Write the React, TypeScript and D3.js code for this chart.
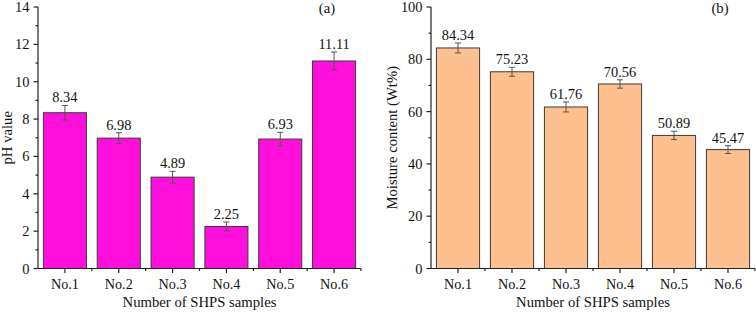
import React from "react";
import * as d3 from "d3";

const categories = ["No.1", "No.2", "No.3", "No.4", "No.5", "No.6"];
const phValues = [8.34, 6.98, 4.89, 2.25, 6.93, 11.11];
const phErrors = [0.39, 0.29, 0.31, 0.24, 0.36, 0.48];
const moistureValues = [84.34, 75.23, 61.76, 70.56, 50.89, 45.47];
const moistureErrors = [1.9, 1.7, 1.9, 1.6, 1.6, 1.5];
const phTicks = [0, 2, 4, 6, 8, 10, 12, 14];
const moistureTicks = [0, 20, 40, 60, 80, 100];

const FONT = "Liberation Serif, Times New Roman, serif";

type PanelProps = {
  x0: number;
  x1: number;
  yBottom: number;
  yTop: number;
  values: number[];
  errors: number[];
  yMax: number;
  ticks: number[];
  minorStep: number;
  fill: string;
  yTitle: string;
  yTitleX: number;
  tag: string;
  tagX: number;
};

function Panel(p: PanelProps) {
  const x = d3
    .scaleBand<string>()
    .domain(categories)
    .range([p.x0, p.x1])
    .paddingInner(0.2)
    .paddingOuter(0.1);
  const y = d3.scaleLinear().domain([0, p.yMax]).range([p.yBottom, p.yTop]);
  const step = x.step();
  const minorY = d3.range(p.minorStep, p.yMax, p.minorStep * 2);
  const boundaries = d3.range(1, categories.length + 1).map((i) => p.x0 + i * step);
  const axisColor = "#222";
  return (
    <g>
      {categories.map((c, i) => {
        const bx = x(c)!;
        const cx = bx + x.bandwidth() / 2;
        const v = p.values[i];
        const e = p.errors[i];
        return (
          <g key={c}>
            <rect
              x={bx}
              y={y(v)}
              width={x.bandwidth()}
              height={y(0) - y(v)}
              fill={p.fill}
              stroke="#3a3a3a"
              strokeWidth={1}
            />
            <line x1={cx} x2={cx} y1={y(v + e)} y2={y(v - e)} stroke="#555" strokeWidth={1} />
            <line x1={cx - 3} x2={cx + 3} y1={y(v + e)} y2={y(v + e)} stroke="#555" strokeWidth={1} />
            <line x1={cx - 3} x2={cx + 3} y1={y(v - e)} y2={y(v - e)} stroke="#555" strokeWidth={1} />
            <text
              x={cx}
              y={y(v + e) - 3}
              textAnchor="middle"
              fontFamily={FONT}
              fontSize={14.4}
              fill="#111"
            >
              {v.toFixed(2)}
            </text>
          </g>
        );
      })}
      <line x1={p.x0} x2={p.x0} y1={p.yBottom + 0.5} y2={p.yTop} stroke={axisColor} strokeWidth={1.2} />
      <line x1={p.x0} x2={p.x1} y1={p.yBottom} y2={p.yBottom} stroke={axisColor} strokeWidth={1.2} />
      {p.ticks.map((t) => (
        <g key={"yt" + t}>
          <line x1={p.x0 - 4.5} x2={p.x0} y1={y(t)} y2={y(t)} stroke={axisColor} strokeWidth={1.2} />
          <text
            x={p.x0 - 8.5}
            y={y(t)}
            dy="0.35em"
            textAnchor="end"
            fontFamily={FONT}
            fontSize={14.4}
            fill="#111"
          >
            {t}
          </text>
        </g>
      ))}
      {minorY.map((t) => (
        <line key={"ym" + t} x1={p.x0 - 2.5} x2={p.x0} y1={y(t)} y2={y(t)} stroke={axisColor} strokeWidth={1.2} />
      ))}
      {categories.map((c) => {
        const cx = x(c)! + x.bandwidth() / 2;
        return (
          <g key={"xt" + c}>
            <line x1={cx} x2={cx} y1={p.yBottom} y2={p.yBottom + 4.5} stroke={axisColor} strokeWidth={1.2} />
            <text
              x={cx}
              y={288.5}
              textAnchor="middle"
              fontFamily={FONT}
              fontSize={14.2}
              fill="#111"
            >
              {c}
            </text>
          </g>
        );
      })}
      {boundaries.map((b, i) => (
        <line key={"xm" + i} x1={b} x2={b} y1={p.yBottom} y2={p.yBottom + 2.5} stroke={axisColor} strokeWidth={1.2} />
      ))}
      <text
        x={(p.x0 + p.x1) / 2}
        y={307}
        textAnchor="middle"
        fontFamily={FONT}
        fontSize={14.7}
        fill="#111"
      >
        Number of SHPS samples
      </text>
      <text
        transform={`translate(${p.yTitleX},${(p.yBottom + p.yTop) / 2}) rotate(-90)`}
        textAnchor="middle"
        fontFamily={FONT}
        fontSize={14.7}
        fill="#111"
      >
        {p.yTitle}
      </text>
      <text x={p.tagX} y={12.5} textAnchor="middle" fontFamily={FONT} fontSize={14.7} fill="#111">
        {p.tag}
      </text>
    </g>
  );
}

export default function App() {
  return (
    <svg
      width={756}
      height={313}
      style={{ position: "absolute", left: 0, top: 0, background: "#fff" }}
    >
      <rect width={756} height={313} fill="#fff" />
      <Panel
        x0={38}
        x1={361}
        yBottom={268.5}
        yTop={7}
        values={phValues}
        errors={phErrors}
        yMax={14}
        ticks={phTicks}
        minorStep={1}
        fill="#ff0fdc"
        yTitle="pH value"
        yTitleX={11.5}
        tag="(a)"
        tagX={327}
      />
      <Panel
        x0={431}
        x1={755}
        yBottom={268.5}
        yTop={7}
        values={moistureValues}
        errors={moistureErrors}
        yMax={100}
        ticks={moistureTicks}
        minorStep={10}
        fill="#ffc08f"
        yTitle="Moisture content (Wt%)"
        yTitleX={396.5}
        tag="(b)"
        tagX={720}
      />
    </svg>
  );
}
